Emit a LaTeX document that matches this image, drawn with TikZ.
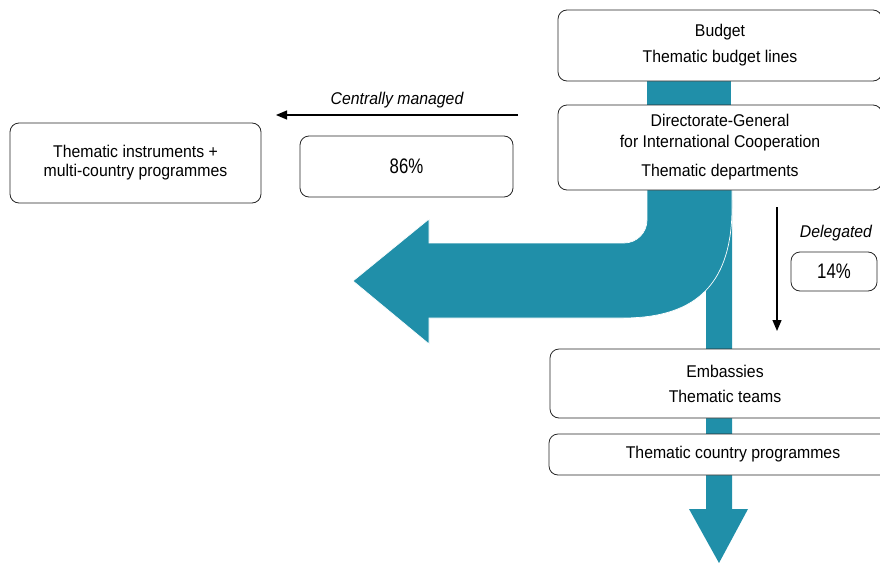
\documentclass[tikz,border=0pt]{standalone}
\usepackage{fontspec}
\setmainfont{Liberation Sans}[FakeStretch=0.93]
\newfontfamily\pctfont{Liberation Sans}[FakeStretch=0.8]
\usetikzlibrary{arrows.meta}
\definecolor{flow}{RGB}{32,143,169}
\begin{document}
\begin{tikzpicture}[x=1pt,y=-1pt,
  box/.style={draw=black!85, line width=0.8pt, fill=white, rounded corners=9pt,
    inner sep=0pt, align=center, font=\fontsize{17}{20}\selectfont},
  pct/.style={box, font=\pctfont\fontsize{21}{24}\selectfont},
  lbl/.style={font=\fontsize{17}{20}\selectfont\itshape, inner sep=0pt},
  arr/.style={line width=1.2pt, -{Triangle[length=11pt,width=9pt]}}]
\useasboundingbox (0,0) rectangle (880,562);
\clip (0,0) rectangle (880,562);
% teal flows
\fill[flow] (647,75) rectangle (731,110);
\fill[flow] (706,200) -- (706,509) -- (689,509) -- (719,563) -- (748,509) -- (732,509) -- (732,200) -- cycle;
\filldraw[fill=flow, draw=white, line width=0.7pt]
  (647,185) -- (647,220) .. controls (647,232.7) and (636.7,243) .. (624,243)
  -- (429,243) -- (429,219) -- (353,281) -- (429,344) -- (429,318) -- (623,318)
  .. controls (700,318) and (732,280) .. (732,207) -- (732,185) -- cycle;
% boxes
\node[box, minimum width=324pt, minimum height=71pt] (budget) at (720,45.5) {Budget\\[6pt]Thematic budget lines};
\node[box, minimum width=324pt, minimum height=85pt] (dg) at (720,147.5) {Directorate-General\\[1pt]for International Cooperation\\[9pt]Thematic departments};
\node[box, minimum width=350pt, minimum height=69pt] (emb) at (725,383.5) {Embassies\\[5pt]Thematic teams};
\node[box, minimum width=368pt, minimum height=41pt] (tcp) at (733,454.5) {Thematic country programmes};
\node[box, minimum width=251pt, minimum height=80pt] (them) at (135.5,163) {Thematic instruments +\\[-1pt]multi-country programmes};
\node[pct, minimum width=213pt, minimum height=61pt] (p86) at (406.5,166.5) {86\%};
\node[pct, minimum width=86pt, minimum height=39pt] (p14) at (834,271.5) {14\%};
% connectors
\coordinate (cmS) at (518,115);
\coordinate (cmE) at (276,115);
\draw[arr] (cmS) -- (cmE);
\node[lbl] (cml) at (397,100) {Centrally managed};
\coordinate (dlS) at (777,207);
\coordinate (dlE) at (777,331);
\draw[arr] (dlS) -- (dlE);
\node[lbl] (dll) at (836,233) {Delegated};
\end{tikzpicture}
\end{document}
